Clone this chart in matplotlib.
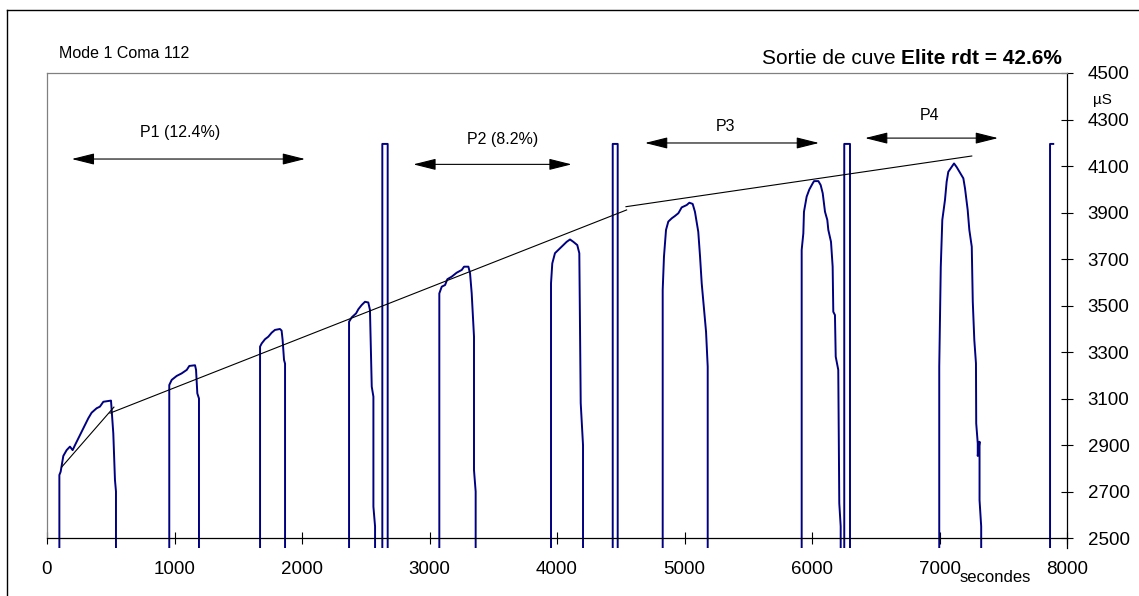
import numpy as np
import matplotlib
matplotlib.use('Agg')
import matplotlib.pyplot as plt
from matplotlib.lines import Line2D

plt.rcParams['font.family'] = ['Liberation Sans', 'DejaVu Sans']

LOW = 2400  # off-scale value between the runs

# conductivity trace (seconds, µS)
t = [0, 97, 97, 107, 128, 154, 180, 201, 220, 259, 285, 324, 350, 389, 415, 442, 502, 520, 533, 541, 541,
     959, 959, 978, 1017, 1056, 1096, 1116, 1161, 1169, 1179, 1192, 1192,
     1671, 1671, 1684, 1710, 1736, 1762, 1788, 1827, 1840, 1848, 1859, 1867, 1867,
     2369, 2369, 2390, 2424, 2442, 2468, 2494, 2520, 2533, 2547, 2560, 2560, 2573, 2573,
     2630, 2630, 2672, 2672,
     3077, 3077, 3096, 3122, 3140, 3174, 3213, 3253, 3271, 3305, 3318, 3331, 3339, 3349, 3349, 3362, 3362,
     3953, 3953, 3963, 3984, 4010, 4037, 4076, 4102, 4128, 4159, 4175, 4180, 4186, 4204, 4204,
     4437, 4437, 4476, 4476,
     4829, 4829, 4839, 4855, 4873, 4900, 4925, 4952, 4978, 5017, 5038, 5064, 5082, 5108, 5122, 5135, 5169, 5182, 5182,
     5919, 5919, 5932, 5937, 5958, 5979, 6005, 6016, 6050, 6068, 6084, 6102, 6120, 6128, 6149, 6162, 6167, 6180,
     6186, 6206, 6214, 6225, 6225,
     6253, 6253, 6298, 6298,
     6998, 6998, 7010, 7022, 7043, 7056, 7069, 7096, 7114, 7135, 7161, 7187, 7200, 7221, 7234, 7253, 7261, 7273,
     7286, 7288, 7300, 7300, 7314, 7314, 7327, 7327,
     7867, 7867, 7892]
v = [LOW, LOW, 2771, 2785, 2853, 2878, 2893, 2878, 2900, 2943, 2972, 3015, 3039, 3058, 3065, 3086, 3091, 2950, 2750, 2700, LOW,
     LOW, 3158, 3180, 3197, 3208, 3223, 3240, 3243, 3223, 3122, 3100, LOW,
     LOW, 3323, 3337, 3355, 3366, 3383, 3395, 3399, 3392, 3352, 3266, 3250, LOW,
     LOW, 3430, 3449, 3466, 3484, 3502, 3516, 3513, 3481, 3151, 3108, 2635, 2550, LOW,
     LOW, 4195, 4195, LOW,
     LOW, 3552, 3581, 3588, 3613, 3624, 3641, 3653, 3667, 3667, 3639, 3552, 3466, 3366, 2792, 2700, LOW,
     LOW, 3595, 3681, 3725, 3739, 3753, 3774, 3784, 3774, 3760, 3725, 3438, 3080, 2900, LOW,
     LOW, 4195, 4195, LOW,
     LOW, 3567, 3710, 3825, 3861, 3875, 3885, 3897, 3922, 3932, 3942, 3937, 3903, 3817, 3710, 3595, 3387, 3237, LOW,
     LOW, 3739, 3810, 3903, 3968, 3999, 4025, 4035, 4035, 4018, 3983, 3903, 3868, 3825, 3774, 3667, 3473, 3459,
     3280, 3223, 2649, 2550, LOW,
     LOW, 4195, 4195, LOW,
     LOW, 3237, 3667, 3868, 3954, 4032, 4075, 4097, 4111, 4095, 4071, 4047, 4004, 3911, 3825, 3753, 3516, 3352,
     3251, 2993, 2907, 2853, 2914, 2663, 2550, LOW,
     LOW, 4195, 4195]

# trend lines
trend_t = [[115, 525], [494, 4546], [4541, 7253]]
trend_v = [[2805, 3063], [3037, 3911], [3925, 4143]]

# period arrows
arrow_labels = ['P1 (12.4%)', 'P2 (8.2%)', 'P3', 'P4']
arrow_start = [194, 2873, 4690, 6416]
arrow_end = [2024, 4115, 6055, 7459]
arrow_v = [4130, 4107, 4199, 4220]
label_t = [1047, 3576, 5318, 6925]
label_v = [4242, 4212, 4268, 4319]

xticks = [0, 1000, 2000, 3000, 4000, 5000, 6000, 7000, 8000]
yticks = [2500, 2700, 2900, 3100, 3300, 3500, 3700, 3900, 4100, 4300, 4500]

W, H = 1139, 596
fig = plt.figure(figsize=(W / 100, H / 100), dpi=100)
ax = fig.add_axes([47 / W, 1 - 548 / H, (1067 - 47) / W, (548 - 73) / H])

ax.plot(t, v, color='#000080', lw=1.4)
for tt, vv in zip(trend_t, trend_v):
    ax.plot(tt, vv, color='black', lw=0.8)

for lab, a, b, y, lx, ly in zip(arrow_labels, arrow_start, arrow_end, arrow_v, label_t, label_v):
    ax.annotate('', xy=(a, y), xytext=(b, y),
                arrowprops=dict(arrowstyle='<|-|>,head_length=1.4,head_width=0.35',
                                color='black', lw=0.8, shrinkA=0, shrinkB=0, mutation_scale=10))
    ax.text(lx, ly, lab, ha='center', va='center', fontsize=11.5)

ax.set_xlim(0, 8000)
ax.set_ylim(2457, 4500)
ax.set_xticks(xticks)
ax.set_yticks(yticks)
ax.yaxis.tick_right()
ax.tick_params(axis='both', direction='inout', length=9, width=0.8, labelsize=13.5, color='black')
ax.tick_params(axis='x', pad=12)
ax.tick_params(axis='y', pad=10.5)

ax.spines['bottom'].set_position(('data', 2500))
ax.spines['bottom'].set_color('black')
ax.spines['right'].set_color('black')
ax.spines['left'].set_color('#808080')
ax.spines['top'].set_color('#808080')
ax.spines['left'].set_bounds(2500, 4500)
for s in ax.spines.values():
    s.set_linewidth(0.9)

# outer chart frame (left and top edges visible)
fig.add_artist(Line2D([7 / W, 7 / W], [0, 1 - 10 / H], transform=fig.transFigure, color='black', lw=1))
fig.add_artist(Line2D([7 / W, 1], [1 - 10 / H, 1 - 10 / H], transform=fig.transFigure, color='black', lw=1))

fig.text(59 / W, 1 - 57.5 / H, 'Mode 1 Coma 112', fontsize=11.5, ha='left', va='baseline')
bold = fig.text(1062 / W, 1 - 63.5 / H, 'Elite rdt = 42.6%', fontsize=15, fontweight='bold',
                ha='right', va='baseline')
fig.canvas.draw()
bb = bold.get_window_extent()
fig.text(bb.x0 / W, 1 - 63.5 / H, 'Sortie de cuve ', fontsize=15, ha='right', va='baseline')
fig.text(1102 / W, 1 - 100 / H, 'µS', fontsize=11, ha='center', va='center')
fig.text(960 / W, 1 - 582 / H, 'secondes', fontsize=12, ha='left', va='baseline')

fig.savefig('out.png', dpi=100)
